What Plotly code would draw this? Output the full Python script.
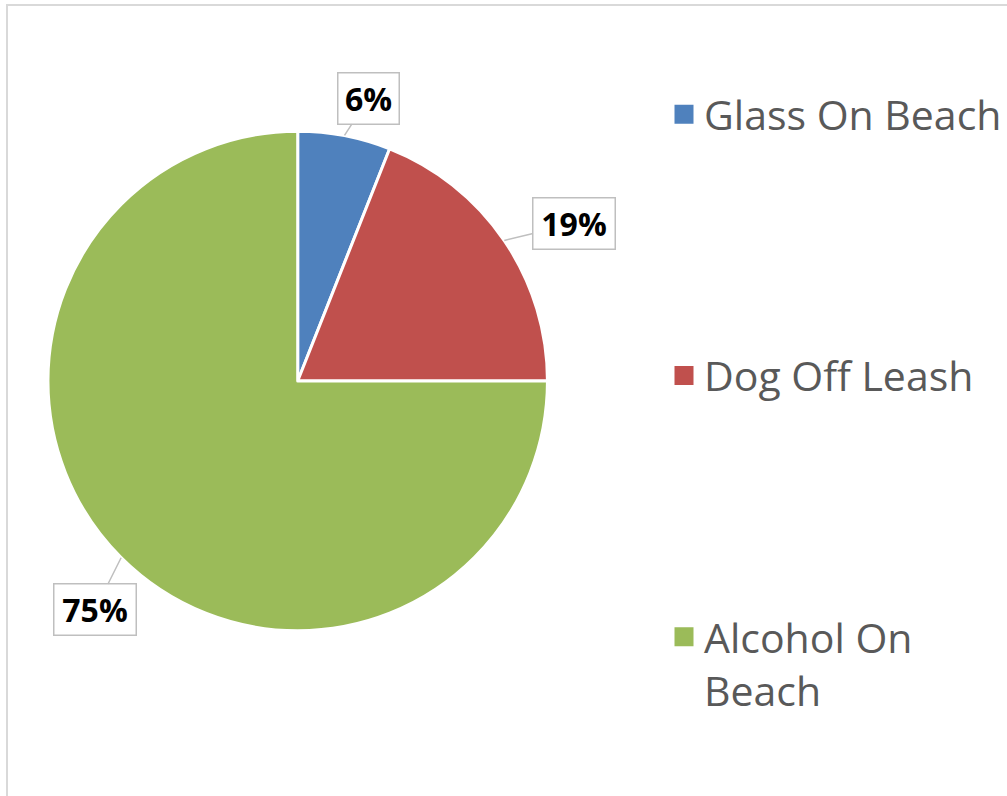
import math
import plotly.graph_objects as go

# ---- data ----
categories = ["Glass On Beach", "Dog Off Leash", "Alcohol On Beach"]
legend_labels = ["Glass On Beach", "Dog Off Leash", "Alcohol On<br>Beach"]
values = [6, 19, 75]
colors = ["#4F81BD", "#C0504D", "#9BBB59"]
# label box offsets (pixels, from slice edge point to label centre)
label_dx = [24, 70, -26]
label_dy = [-37, -17, 52]

W, H = 1007, 796
cx, cy, R = 298, 381, 250  # pie centre / radius in pixels

fig = go.Figure()
fig.add_trace(go.Pie(
    labels=categories, values=values, sort=False, direction="clockwise",
    rotation=0, marker=dict(colors=colors, line=dict(color="white", width=3)),
    textinfo="none", hoverinfo="label+percent", showlegend=False,
    domain=dict(x=[(cx - R) / W, (cx + R) / W], y=[1 - (cy + R) / H, 1 - (cy - R) / H]),
))

# legend entries
for i, (lab, col) in enumerate(zip(legend_labels, colors)):
    fig.add_trace(go.Scatter(
        x=[None], y=[None], mode="markers", name=lab, legendgroup=f"g{i}",
        marker=dict(symbol="square", size=16, color=col, line=dict(color=col, width=3)),
    ))

# data labels
total = sum(values)
cum = 0
annotations = []
for i, v in enumerate(values):
    mid = (cum + v / 2) / total * 2 * math.pi
    cum += v
    px = cx + R * math.sin(mid)
    py = cy - R * math.cos(mid)
    txt = f"{round(v / total * 100)}%"
    annotations.append(dict(
        x=px / W, y=1 - py / H, xref="paper", yref="paper",
        text=f"<b>{txt}</b>", showarrow=True, arrowhead=0, arrowwidth=1.5,
        arrowcolor="#BFBFBF", ax=label_dx[i], ay=label_dy[i],
        bordercolor="#BFBFBF", borderwidth=1.5, borderpad=5, bgcolor="white",
        width=21 * len(txt) + 8, height=40,
        font=dict(family="Open Sans", size=32, color="black"),
    ))

fig.update_layout(
    width=W, height=H, margin=dict(l=0, r=0, t=0, b=0),
    paper_bgcolor="white", plot_bgcolor="white",
    xaxis=dict(visible=False), yaxis=dict(visible=False),
    annotations=annotations,
    legend=dict(
        x=0.660, y=1 - 81 / H, xanchor="left", yanchor="top",
        font=dict(family="Open Sans", size=41, color="#595959"),
        tracegroupgap=205, valign="top", bgcolor="rgba(0,0,0,0)",
    ),
    shapes=[dict(type="rect", xref="paper", yref="paper",
                 x0=7 / W, y0=1 - 5 / H, x1=1.02, y1=-0.02,
                 line=dict(color="#D9D9D9", width=2), layer="below")],
)

fig.write_html("out.html")
